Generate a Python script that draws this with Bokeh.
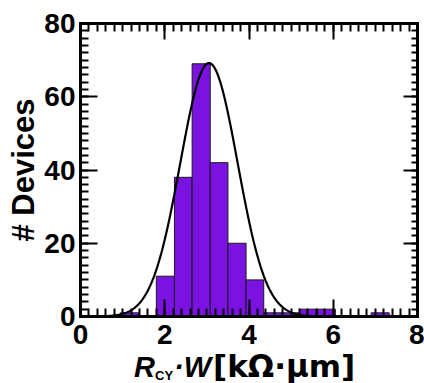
import numpy as np
from bokeh.plotting import figure
from bokeh.layouts import column
from bokeh.models import (LinearAxis, Range1d, FixedTicker, Div,
                          CustomJSTickFormatter)
from bokeh.embed import file_html
from bokeh.resources import INLINE

# ---- data ----
bin_left = [0.95, 1.38, 1.80, 2.23, 2.65, 3.08, 3.50, 3.93, 4.35, 4.78, 5.20, 5.63, 6.05, 6.48, 6.90]
bin_right = [1.38, 1.80, 2.23, 2.65, 3.08, 3.50, 3.93, 4.35, 4.78, 5.20, 5.63, 6.05, 6.48, 6.90, 7.33]
counts = [1, 0, 11, 38, 69, 42, 20, 10, 1, 1, 2, 2, 0, 0, 1]

# Gaussian fit parameters
fit_mean = 3.05
fit_sigma = 0.68
fit_amp = 69.2

x_ticks = [0, 2, 4, 6, 8]
y_ticks = [0, 20, 40, 60, 80]

TOP_H = 356
p = figure(width=424, height=TOP_H, x_range=Range1d(0, 8), y_range=Range1d(0, 80),
           output_backend="svg", toolbar_location=None,
           x_axis_location=None, y_axis_location=None,
           min_border_left=80, min_border_right=7, min_border_top=23,
           min_border_bottom=TOP_H - 316)
p.xgrid.visible = False
p.ygrid.visible = False
p.outline_line_color = None
p.background_fill_color = "white"
p.border_fill_color = "white"

p.quad(left=bin_left, right=bin_right, bottom=0, top=counts,
       fill_color="#7A12E2", line_color="#1a1a1a", line_width=1)

xs = np.linspace(0.6, 5.9, 400)
ys = fit_amp * np.exp(-(xs - fit_mean) ** 2 / (2 * fit_sigma ** 2))
p.line(xs, ys, line_color="black", line_width=2.2)

x_minor = [round(0.2 * i, 2) for i in range(41)]
y_minor = [2 * i for i in range(41)]

def make_axis(ticks, minor, show_labels, tick_len, minor_len, standoff=6):
    ax = LinearAxis(ticker=FixedTicker(ticks=ticks, minor_ticks=minor))
    ax.axis_line_width = 3
    ax.axis_line_color = "black"
    ax.axis_line_cap = "square"
    ax.major_tick_in = tick_len
    ax.major_tick_out = 0
    ax.minor_tick_in = minor_len
    ax.minor_tick_out = 0
    ax.major_tick_line_width = 2
    ax.minor_tick_line_width = 2
    ax.major_tick_line_color = "black"
    ax.minor_tick_line_color = "black"
    if show_labels:
        ax.major_label_text_font = "Liberation Sans"
        ax.major_label_text_font_style = "bold"
        ax.major_label_text_font_size = "28px"
        ax.major_label_text_color = "black"
        ax.major_label_standoff = standoff
    else:
        ax.formatter = CustomJSTickFormatter(code="return ''")
        ax.major_label_standoff = 0
        ax.major_label_text_font_size = "1px"
    return ax

xb = make_axis(x_ticks, x_minor, True, 17, 8, standoff=8)
yl = make_axis(y_ticks, y_minor, True, 17, 8, standoff=5)
yl.axis_label = "# Devices"
yl.axis_label_text_font = "Liberation Sans"
yl.axis_label_text_font_style = "bold"
yl.axis_label_text_font_size = "31px"
yl.axis_label_text_color = "black"
yl.axis_label_standoff = 0
p.add_layout(xb, "below")
p.add_layout(yl, "left")
p.add_layout(make_axis(x_ticks, x_minor, False, 16, 8), "above")
p.add_layout(make_axis(y_ticks, y_minor, False, 14, 6), "right")

# ---- x-axis title strip: R_CY · W [kΩ·μm] ----
BOT_H = 383 - TOP_H
lib = "'Liberation Sans', Arial, sans-serif"
dej = "'DejaVu Sans', sans-serif"
def span(left, top, txt, style, size, fam):
    return (f'<span style="position:absolute;left:{left}px;top:{top}px;'
            f'font:{style} {size}px/{size}px {fam};white-space:nowrap;color:black;">{txt}</span>')

title_html = ('<div style="position:relative;width:424px;height:%dpx;overflow:visible;">' % BOT_H
              + span(134, -3.5, "R", "italic bold", 29, lib)
              + span(155, 13, "CY", "bold", 13, lib)
              + span(174, -3.5, "·W", "italic bold", 29, lib)
              + span(213, -5.2, "[kΩ·μm]", "bold", 31, dej)
              + '</div>')
t = Div(text=title_html, width=424, height=BOT_H,
        styles={"overflow": "visible", "margin": "0", "padding": "0"})

layout = column(p, t, spacing=0)
open("out.html", "w").write(file_html(layout, INLINE))
